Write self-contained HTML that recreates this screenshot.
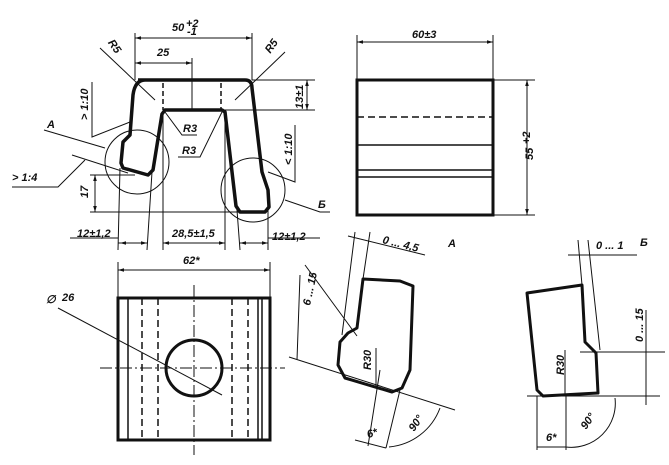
<!DOCTYPE html>
<html><head><meta charset="utf-8"><style>
html,body{margin:0;padding:0;background:#fff;width:669px;height:465px;overflow:hidden}
text{font-family:"Liberation Sans",sans-serif;font-style:italic;font-weight:bold;font-size:11px;fill:#111}
</style></head><body>
<svg width="669" height="465" viewBox="0 0 669 465" xmlns="http://www.w3.org/2000/svg">
<defs><marker id="a" viewBox="0 0 10 10" refX="10" refY="5" markerWidth="6" markerHeight="6" orient="auto-start-reverse"><path d="M0,2 L10,5 L0,8z" fill="#111"/></marker></defs>
<g fill="none" stroke="#111" stroke-width="1">
<path d="M138,80 L245,80 Q252,80 252,88 L262,172 L268,190 L269,207 L265,212 L240,212 L236,206 L225,112 L222,110 L165,110 L162,114 L153,170 L148,175 L123,168 L121,163 L123,142 L130,135 L133,95 Q135,80 145,80" stroke-width="3.5" stroke-linejoin="round"/>
<path d="M163,83 V110 M221,83 V110" stroke-dasharray="5,3" stroke-width="1.5"/>
<circle cx="137" cy="162" r="32"/><circle cx="253" cy="190" r="32"/>
<path d="M135,33 V80 M252,33 V80"/><path d="M135,38 H252" marker-start="url(#a)" marker-end="url(#a)"/>
<path d="M192,58 V110"/><path d="M135,63 H192" marker-start="url(#a)" marker-end="url(#a)"/>
<path d="M100,48 L155,100 M285,52 L235,100"/>
<path d="M252,80 H315 M222,110 H315"/><path d="M307,80 V110" marker-start="url(#a)" marker-end="url(#a)"/>
<path d="M165,112 L182,135 H197 M222,112 L200,157 H178"/>
<path d="M92,82 V137 L130,122" /><path d="M44,130 L105,148"/><path d="M72,155 L128,173"/>
<path d="M12,187 H58 L85,160"/>
<path d="M90,175 H135 M90,212 H240"/><path d="M95,175 V212" marker-start="url(#a)" marker-end="url(#a)"/>
<path d="M295,125 V182 L268,172 M285,200 L320,212 H330"/>
<path d="M120,168 L118,250 M152,172 L147,250 M163,112 V250 M225,112 V250 M237,210 L240,250 M268,207 L268,250"/>
<path d="M70,238 H118 M118,243 H147 M163,243 H225 M240,243 H268 M268,238 H320"/>
<path d="M120,243 H147" marker-start="url(#a)" marker-end="url(#a)"/>
<path d="M163,243 H225" marker-start="url(#a)" marker-end="url(#a)"/>
<path d="M240,243 H268" marker-start="url(#a)" marker-end="url(#a)"/>
<rect x="357" y="80" width="136" height="135" stroke-width="3"/>
<path d="M357,117 H493" stroke-dasharray="7,4" stroke-width="1.5"/>
<path d="M357,145 H493 M357,170 H493 M357,177 H493" stroke-width="1.5"/>
<path d="M357,35 V80 M493,35 V80"/><path d="M357,42 H493" marker-start="url(#a)" marker-end="url(#a)"/>
<path d="M493,80 H535 M493,215 H535"/><path d="M527,80 V215" marker-start="url(#a)" marker-end="url(#a)"/>
<rect x="118" y="298" width="152" height="142" stroke-width="3"/>
<path d="M128,298 V440 M262,298 V440 M258,298 V440" stroke-width="1.5"/>
<path d="M142,298 V440 M158,298 V440 M232,298 V440 M248,298 V440" stroke-dasharray="7,4" stroke-width="1.5"/>
<path d="M100,368 H285 M194,285 V455" stroke-dasharray="12,3,2,3"/>
<circle cx="194" cy="368" r="28" stroke-width="3"/>
<path d="M58,308 L222,395"/>
<path d="M118,262 V298 M270,262 V298"/><path d="M118,270 H270" marker-start="url(#a)" marker-end="url(#a)"/>
<path d="M363,279 L400,281 L413,286 L410,370 L402,388 L392,392 L345,378 L338,365 L340,342 L348,333 L357,328 Z" stroke-width="3" stroke-linejoin="round"/>
<path d="M355,232 L342,335 M370,232 L363,279 M348,236 L425,255 M305,265 L357,336 M289,357 L455,410 M300,275 L297,360"/>
<path d="M380,370 L368,446 M400,390 L386,448 M355,440 L386,448 M389,447 A60,60 0 0,0 440,408"/>
<path d="M376,348 V386"/>
<path d="M527,293 L582,285 L585,342 L596,353 L598,393 L543,396 L537,390 Z" stroke-width="3" stroke-linejoin="round"/>
<path d="M578,240 L582,285 M588,240 L600,350 M568,255 L637,255 M580,352 H665 M527,396 H660 M646,310 V405"/>
<path d="M565,350 V396 M537,396 V450 M566,396 V450 M537,447 H566 M566,447 A44,44 0 0,0 615,398"/>
</g>
<text x="172" y="31">50</text><text x="186" y="27" font-size="7">+2</text><text x="187" y="35" font-size="7">-1</text>
<text x="157" y="56">25</text>
<text x="108" y="48" transform="rotate(55 113 45)">R5</text>
<text x="262" y="52" transform="rotate(-55 268 45)">R5</text>
<text x="303" y="109" transform="rotate(-90 303 109)">13±1</text>
<text x="183" y="132">R3</text><text x="182" y="154">R3</text>
<text x="88" y="120" transform="rotate(-90 88 120)">&gt; 1:10</text>
<text x="47" y="128" font-size="14">А</text>
<text x="12" y="181">&gt; 1:4</text>
<text x="88" y="198" transform="rotate(-90 88 198)">17</text>
<text x="292" y="165" transform="rotate(-90 292 165)">&lt; 1:10</text>
<text x="318" y="208" font-size="14">Б</text>
<text x="77" y="237">12±1,2</text><text x="172" y="237">28,5±1,5</text><text x="272" y="240">12±1,2</text>
<text x="412" y="38">60±3</text>
<text x="533" y="160" transform="rotate(-90 533 160)">55</text><text x="530" y="144" font-size="7" transform="rotate(-90 530 144)">+2</text>
<text x="183" y="264">62*</text>
<text x="46" y="303" font-size="18" font-style="normal">∅</text><text x="62" y="301">26</text>
<text x="382" y="243" font-size="10" transform="rotate(14 382 243)">0 ... 4,5</text>
<text x="448" y="247" font-size="14">А</text>
<text x="310" y="306" font-size="10" transform="rotate(-78 310 306)">6 ... 15</text>
<text x="371" y="370" transform="rotate(-90 371 370)">R30</text>
<text x="368" y="438" transform="rotate(-15 368 438)">6*</text>
<text x="414" y="432" transform="rotate(-55 414 432)">90°</text>
<text x="596" y="249" font-size="10">0 ... 1</text>
<text x="640" y="246" font-size="14">Б</text>
<text x="643" y="342" font-size="10" transform="rotate(-90 643 342)">0 ... 15</text>
<text x="564" y="375" transform="rotate(-90 564 375)">R30</text>
<text x="546" y="441">6*</text>
<text x="586" y="430" transform="rotate(-55 586 430)">90°</text>
</svg>
</body></html>
